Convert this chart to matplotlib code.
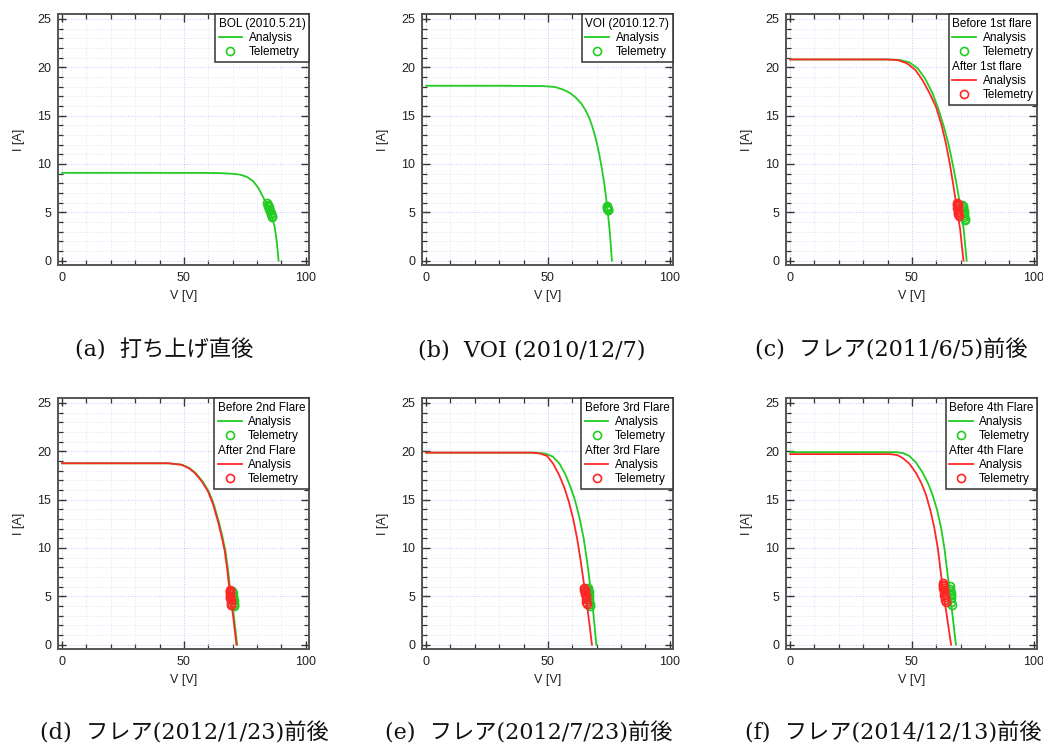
import matplotlib
matplotlib.use("Agg")
from matplotlib import pyplot as plt
from matplotlib.lines import Line2D
from matplotlib.ticker import MultipleLocator

plt.rcParams['font.family'] = ['Liberation Sans', 'DejaVu Sans']

VERDE = '#22cc22'
ROJO = '#ff2626'

# (a) BOL
a_v = [0, 30, 60, 66, 70, 73, 76, 78.5, 80.5, 82.5, 84, 85.2, 86.3, 87.3, 88.2, 88.9]
a_i = [9.08, 9.08, 9.07, 9.04, 8.98, 8.9, 8.65, 8.2, 7.55, 6.6, 5.85, 5.2, 4.4, 3.5, 1.9, 0]
a_tel_v = [84.3, 84.5, 84.6, 84.9, 85.1, 85.3, 85.6, 85.8, 86.0, 86.2]
a_tel_i = [6.0, 5.8, 5.6, 5.5, 5.3, 5.1, 4.95, 4.8, 4.6, 4.5]

# (b) VOI
b_v = [0, 30, 48, 53, 56.1, 59, 61.5, 63.7, 65.6, 67.1, 68.4, 69.8, 71.1, 72.2, 73.2, 74.5, 75.5, 76.3]
b_i = [18.08, 18.08, 18.05, 17.95, 17.7, 17.35, 16.85, 16.25, 15.5, 14.7, 13.76, 12.5, 11.0, 9.5, 7.9, 5.3, 2.8, 0]
b_tel_v = [74.3, 74.4, 74.4, 74.5, 74.5, 74.6]
b_tel_i = [5.65, 5.55, 5.45, 5.35, 5.25, 5.2]

# (c) 1st flare
c_antes_v = [0, 40, 45, 49, 52.5, 55.5, 58.5, 61, 63.2, 65.2, 67, 68.5, 70, 71.3, 72.5]
c_antes_i = [20.8, 20.8, 20.75, 20.5, 19.85, 18.8, 17.3, 15.6, 13.8, 11.9, 9.7, 7.7, 5.5, 3.2, 0]
c_desp_v = [0, 39, 44, 48, 51.5, 54.4, 57.3, 59.9, 62.1, 64, 65.6, 66.9, 68.2, 69.8, 71.2]
c_desp_i = [20.8, 20.8, 20.75, 20.4, 19.7, 18.65, 17.3, 15.9, 14.1, 12.1, 10.0, 8.0, 5.9, 3.3, 0]
c_tel_antes_v = [70.7, 70.9, 71.0, 71.1, 71.3, 71.4, 71.5, 71.6, 71.7, 71.8]
c_tel_antes_i = [5.8, 5.6, 5.5, 5.3, 5.1, 4.9, 4.7, 4.5, 4.3, 4.2]
c_tel_desp_v = [68.5, 68.6, 68.8, 68.7, 68.9, 69.0, 69.1, 69.2, 68.9]
c_tel_desp_i = [6.0, 5.8, 5.6, 5.4, 5.2, 5.0, 4.8, 4.6, 5.9]

# (d) 2nd flare
d_antes_v = [0, 43.8, 49.3, 52.3, 54.8, 57.6, 60.2, 62.3, 64.3, 65.8, 67.1, 68.2, 69.1, 70.5, 71.9]
d_antes_i = [18.75, 18.75, 18.6, 18.25, 17.75, 16.9, 15.85, 14.5, 12.75, 11.2, 9.65, 7.6, 5.5, 3.0, 0]
d_desp_v = [0, 43.5, 49, 52, 54.5, 57.3, 59.9, 62, 64, 65.5, 66.8, 67.9, 68.8, 70.2, 71.6]
d_desp_i = [18.75, 18.75, 18.6, 18.25, 17.75, 16.9, 15.85, 14.5, 12.75, 11.2, 9.65, 7.6, 5.5, 3.0, 0]
d_tel_antes_v = [69.8, 70.0, 70.1, 70.2, 70.4, 70.5, 70.7, 70.6]
d_tel_antes_i = [5.5, 5.3, 5.0, 4.8, 4.6, 4.3, 4.1, 4.0]
d_tel_desp_v = [68.8, 68.9, 69.0, 69.1, 69.1, 69.3, 69.4, 69.5, 68.9]
d_tel_desp_i = [5.6, 5.4, 5.2, 5.0, 4.8, 4.6, 4.3, 4.1, 5.5]

# (e) 3rd flare
e_antes_v = [0, 45, 49, 52, 54.8, 57.2, 59.3, 61.3, 63.1, 64.7, 66.0, 67.2, 68.3, 69.1, 69.9]
e_antes_i = [19.85, 19.85, 19.75, 19.45, 18.7, 17.6, 16.3, 14.8, 13.0, 11.0, 8.8, 6.5, 4.2, 2.2, 0]
e_desp_v = [0, 43.5, 47, 49.7, 52.2, 54.5, 56.6, 58.6, 60.4, 62, 63.4, 64.7, 66, 67.1, 68.1]
e_desp_i = [19.85, 19.85, 19.75, 19.5, 18.7, 17.6, 16.35, 14.8, 13.0, 11.0, 8.8, 6.5, 4.2, 2.1, 0]
e_tel_antes_v = [66.4, 66.5, 66.7, 66.8, 67.0, 67.1, 67.3, 67.5]
e_tel_antes_i = [5.9, 5.6, 5.4, 5.1, 4.8, 4.5, 4.2, 4.0]
e_tel_desp_v = [64.9, 65.0, 65.2, 65.3, 65.5, 65.6, 65.8, 66.0, 65.1]
e_tel_desp_i = [5.9, 5.7, 5.4, 5.2, 5.0, 4.7, 4.4, 4.2, 5.6]

# (f) 4th flare
f_antes_v = [0, 43.5, 46.5, 49, 51.8, 54.5, 56.8, 58.6, 60.4, 62, 63.4, 64.7, 65.9, 67, 68.1]
f_antes_i = [19.9, 19.9, 19.8, 19.5, 18.8, 17.75, 16.6, 15.4, 13.9, 12.1, 9.9, 7.2, 4.8, 2.4, 0]
f_desp_v = [0, 41, 44, 46.2, 49, 51.7, 53.9, 55.8, 57.6, 59.2, 60.7, 62, 63.3, 64.7, 66.1]
f_desp_i = [19.7, 19.7, 19.6, 19.3, 18.7, 17.75, 16.7, 15.5, 13.9, 12.1, 9.9, 7.2, 4.8, 2.4, 0]
f_tel_antes_v = [65.5, 65.6, 65.8, 65.9, 66.1, 66.2, 66.4, 66.0]
f_tel_antes_i = [6.1, 5.8, 5.5, 5.1, 4.8, 4.4, 4.1, 5.3]
f_tel_desp_v = [62.6, 62.8, 62.9, 63.1, 63.2, 63.4, 63.6, 63.8, 64.0, 62.9]
f_tel_desp_i = [6.4, 6.1, 5.9, 5.6, 5.4, 5.1, 4.9, 4.6, 4.4, 6.2]

titulos = ['BOL (2010.5.21)', 'VOI (2010.12.7)']
flares = ['1st flare', '2nd Flare', '3rd Flare', '4th Flare']
captions = ['(a)  打ち上げ直後', '(b)  VOI (2010/12/7)', '(c)  フレア(2011/6/5)前後',
            '(d)  フレア(2012/1/23)前後', '(e)  フレア(2012/7/23)前後', '(f)  フレア(2014/12/13)前後']

fig = plt.figure(figsize=(10.43, 7.45), dpi=100)
W, H = 1043.0, 745.0

# posiciones de los ejes en pixeles (izq, arriba)
lefts = [58, 422, 786]
tops = [14, 398]
ancho, alto = 251, 251

MS = 5.8
MEW = 1.2


def hacer_ejes(col, fila):
    ax = fig.add_axes([lefts[col] / W, 1 - (tops[fila] + alto) / H, ancho / W, alto / H])
    ax.set_xlim(-1.7, 101.4)
    ax.set_ylim(-0.45, 25.5)
    ax.xaxis.set_major_locator(MultipleLocator(50))
    ax.xaxis.set_minor_locator(MultipleLocator(10))
    ax.yaxis.set_major_locator(MultipleLocator(5))
    ax.yaxis.set_minor_locator(MultipleLocator(1))
    ax.grid(which='major', color='#c4c4f4', linestyle=':', linewidth=0.7)
    ax.grid(which='minor', color='#dedefa', linestyle=':', linewidth=0.6)
    ax.set_axisbelow(True)
    ax.tick_params(which='both', direction='in', top=True, right=True, colors='#333333',
                   labelsize=9, labelcolor='#222222')
    ax.tick_params(which='major', length=6, width=1.0, pad=5)
    ax.tick_params(which='minor', length=3.5, width=0.9)
    for s in ax.spines.values():
        s.set_color('#555555')
        s.set_linewidth(1.4)
    ax.set_xlabel('V [V]', fontsize=9, color='#222222', labelpad=4)
    ax.set_ylabel('I [A]', fontsize=9, color='#222222', labelpad=9)
    return ax


def hacer_leyenda(ax, handles, labels, cabeceras):
    leg = ax.legend(handles, labels, loc='upper right', borderaxespad=0, fontsize=8.5,
                    fancybox=False, framealpha=1, edgecolor='#333333', handlelength=2.0,
                    handletextpad=0.55, labelspacing=0.2, borderpad=0.3, numpoints=1)
    leg.get_frame().set_linewidth(1.1)
    # las cabeceras van sin simbolo, pegadas a la izquierda
    filas = leg._legend_handle_box.get_children()[0].get_children()
    for k in cabeceras:
        filas[k].sep = 0
        filas[k].get_children()[0].width = 0
    return leg


def vacio():
    return Line2D([], [], linestyle='none', marker=None)


def linea(color):
    return Line2D([], [], color=color, linewidth=1.3)


def circulo(color):
    return Line2D([], [], linestyle='none', marker='o', markerfacecolor='none',
                  markeredgecolor=color, markersize=MS, markeredgewidth=MEW)


simples = [(a_v, a_i, a_tel_v, a_tel_i), (b_v, b_i, b_tel_v, b_tel_i)]
for k, (v, i, tv, ti) in enumerate(simples):
    ax = hacer_ejes(k, 0)
    ax.plot(v, i, color=VERDE, linewidth=1.3)
    ax.plot(tv, ti, linestyle='none', marker='o', markerfacecolor='none',
            markeredgecolor=VERDE, markersize=MS, markeredgewidth=MEW)
    hacer_leyenda(ax, [vacio(), linea(VERDE), circulo(VERDE)],
                  [titulos[k], 'Analysis', 'Telemetry'], [0])

dobles = [
    (c_antes_v, c_antes_i, c_tel_antes_v, c_tel_antes_i, c_desp_v, c_desp_i, c_tel_desp_v, c_tel_desp_i),
    (d_antes_v, d_antes_i, d_tel_antes_v, d_tel_antes_i, d_desp_v, d_desp_i, d_tel_desp_v, d_tel_desp_i),
    (e_antes_v, e_antes_i, e_tel_antes_v, e_tel_antes_i, e_desp_v, e_desp_i, e_tel_desp_v, e_tel_desp_i),
    (f_antes_v, f_antes_i, f_tel_antes_v, f_tel_antes_i, f_desp_v, f_desp_i, f_tel_desp_v, f_tel_desp_i),
]
posiciones = [(2, 0), (0, 1), (1, 1), (2, 1)]
for k, datos in enumerate(dobles):
    av, ai, atv, ati, dv, di, dtv, dti = datos
    ax = hacer_ejes(*posiciones[k])
    ax.plot(av, ai, color=VERDE, linewidth=1.3)
    ax.plot(atv, ati, linestyle='none', marker='o', markerfacecolor='none',
            markeredgecolor=VERDE, markersize=MS, markeredgewidth=MEW)
    ax.plot(dv, di, color=ROJO, linewidth=1.3)
    ax.plot(dtv, dti, linestyle='none', marker='o', markerfacecolor='none',
            markeredgecolor=ROJO, markersize=MS, markeredgewidth=MEW)
    hacer_leyenda(ax,
                  [vacio(), linea(VERDE), circulo(VERDE), vacio(), linea(ROJO), circulo(ROJO)],
                  ['Before ' + flares[k], 'Analysis', 'Telemetry',
                   'After ' + flares[k], 'Analysis', 'Telemetry'], [0, 3])

# pies de figura
cap_x = [75, 418, 755, 40, 385, 745]
cap_y = [350, 350, 350, 733, 733, 733]
for k, txt in enumerate(captions):
    fig.text(cap_x[k] / W, 1 - cap_y[k] / H, txt, ha='left', va='center', fontsize=16,
             family=['DejaVu Serif', 'Noto Sans CJK JP'], color='#111111')

plt.savefig('out.png', dpi=100)
